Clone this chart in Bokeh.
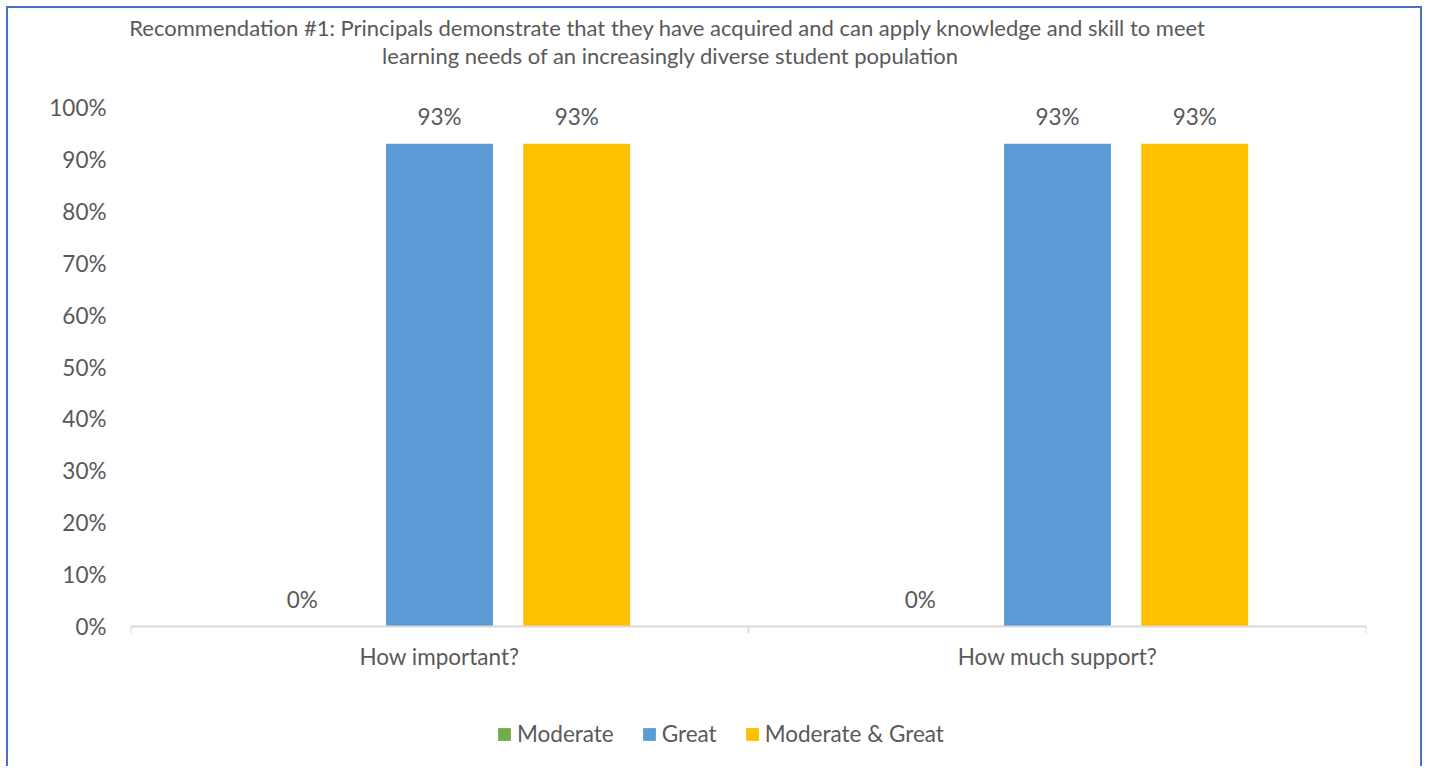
from bokeh.plotting import figure
from bokeh.models import (ColumnDataSource, FixedTicker, LinearAxis, Legend, LegendItem,
                          LabelSet, Label, Span, Range1d, NumeralTickFormatter)
from bokeh.core.properties import value
from bokeh.transform import dodge
from bokeh.embed import file_html
from bokeh.resources import INLINE

categories = ["How important?", "How much support?"]
moderate = [0.0, 0.0]
great = [0.93, 0.93]
moderate_great = [0.93, 0.93]
series_names = ["Moderate", "Great", "Moderate & Great"]
colors = ["#70AD47", "#5B9BD5", "#FFC000"]
title_text = ("Recommendation #1:  Principals demonstrate that they have acquired and can apply knowledge and skill to meet\n"
              "learning needs of an increasingly diverse student population")

FONT = "Lato"
TXT = "#595959"
FS = "22.5px"
AXIS_GREY = "#D9D9D9"

# layout (pixels) -> plotting area extends over the title/legend space
H = 760
ZERO_PX = 618      # distance of the 0% line from the canvas top
UNIT_PX = 519      # pixels for 0% -> 100%
y_top = ZERO_PX / UNIT_PX
y_bottom = -(H - ZERO_PX) / UNIT_PX

xc = [i + 0.5 for i in range(len(categories))]
bounds = list(range(len(categories) + 1))
src = ColumnDataSource(dict(
    x=xc, cat=categories,
    moderate=moderate, great=great, mg=moderate_great,
    moderate_lbl=[f"{v*100:.0f}%" for v in moderate],
    great_lbl=[f"{v*100:.0f}%" for v in great],
    mg_lbl=[f"{v*100:.0f}%" for v in moderate_great],
))

p = figure(width=1416, height=H, output_backend="svg", toolbar_location=None,
           x_range=Range1d(0, len(categories)), y_range=Range1d(y_bottom, y_top),
           min_border_left=122, min_border_right=58, min_border_top=0, min_border_bottom=0)
p.xaxis.visible = False
p.yaxis.visible = False
p.grid.visible = False
p.outline_line_color = None
p.background_fill_color = "white"
p.border_fill_color = "white"
p.styles = {"border": "2px solid #4472C4", "border-bottom": "none", "margin": "6px 0 0 6px"}

off = 0.222
w = 0.173
cols = ["moderate", "great", "mg"]
lbls = ["moderate_lbl", "great_lbl", "mg_lbl"]
offsets = [-off, 0.0, off]
renderers = []
for c, l, o, col in zip(cols, lbls, offsets, colors):
    r = p.vbar(x=dodge("x", o), top=c, width=w, bottom=0, source=src,
               fill_color=col, line_color=None)
    renderers.append(r)
    p.add_layout(LabelSet(x=dodge("x", o), y=c, text=l, source=src, text_align="center",
                          text_baseline="alphabetic", y_offset=19, text_font=value(FONT),
                          text_font_size=value(FS), text_color=TXT))

# category axis: baseline, boundary ticks, category names
p.add_layout(Span(location=0, dimension="width", line_color=AXIS_GREY, line_width=2))
p.ray(x=bounds, y=[0] * len(bounds), length=7, length_units="screen", angle=-90,
      angle_units="deg", line_color=AXIS_GREY, line_width=2)
p.add_layout(LabelSet(x="x", y=0, text="cat", source=src, text_align="center",
                      text_baseline="alphabetic", y_offset=-38, text_font=value(FONT),
                      text_font_size=value(FS), text_color=TXT))

# y axis
yax = LinearAxis(ticker=FixedTicker(ticks=[i / 10 for i in range(11)]),
                 formatter=NumeralTickFormatter(format="0%"))
yax.axis_line_color = None
yax.major_tick_line_color = None
yax.minor_tick_line_color = None
yax.major_label_standoff = 18
yax.major_label_text_font = FONT
yax.major_label_text_font_size = FS
yax.major_label_text_color = TXT
p.add_layout(yax, "left")

legend = Legend(items=[LegendItem(label=n, renderers=[r]) for n, r in zip(series_names, renderers)],
                orientation="horizontal", location=(366, 21), border_line_color=None,
                label_text_font=FONT, label_text_font_size=FS, label_text_color=TXT,
                glyph_width=16, glyph_height=16, label_standoff=5, spacing=27,
                margin=0, padding=0, background_fill_alpha=0)
p.add_layout(legend, "center")

p.add_layout(Label(x=0.8738, y=1.1272, text=title_text, text_align="center", text_baseline="middle",
                   text_font=FONT, text_font_size="22px", text_color=TXT, text_line_height=1.04))

open("out.html", "w").write(file_html(p, INLINE))
